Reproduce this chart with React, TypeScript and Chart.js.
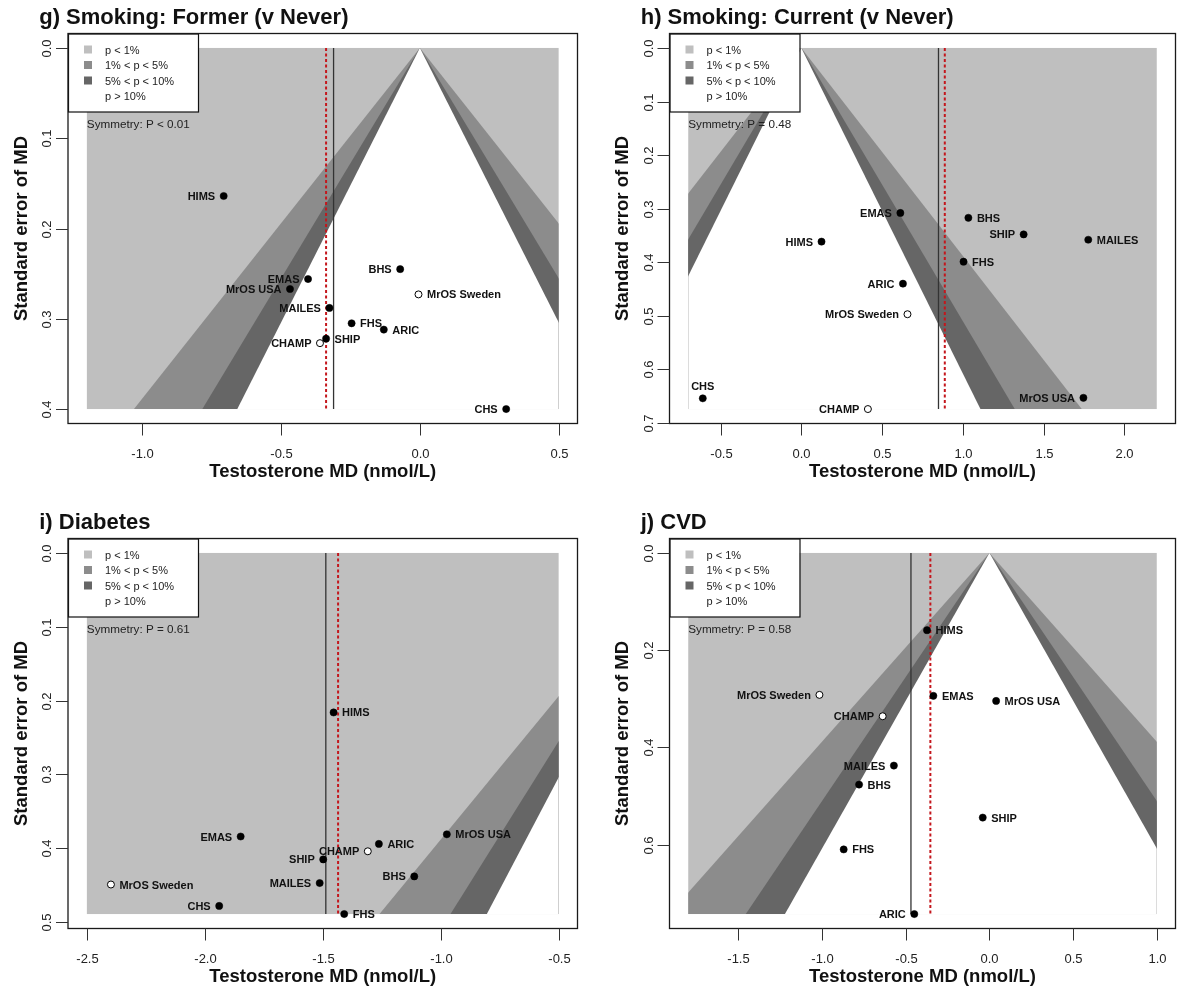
import React, { useEffect, useRef } from 'react';
import { Chart, registerables } from 'chart.js';

Chart.register(...registerables);

const FONT = '"Liberation Sans", Arial, Helvetica, sans-serif';

// ---------- Panel g) Smoking: Former (v Never) ----------
const gStudies = ['HIMS', 'BHS', 'EMAS', 'MrOS USA', 'MrOS Sweden', 'MAILES', 'FHS', 'ARIC', 'SHIP', 'CHAMP', 'CHS'];
const gMD = [-0.707, -0.071, -0.403, -0.468, -0.005, -0.326, -0.246, -0.130, -0.338, -0.360, 0.311];
const gSE = [0.164, 0.245, 0.256, 0.267, 0.273, 0.288, 0.305, 0.312, 0.322, 0.327, 0.400];
const gXTicks = [-1.0, -0.5, 0.0, 0.5];
const gXTickLabels = ['-1.0', '-0.5', '0.0', '0.5'];
const gYTicks = [0.0, 0.1, 0.2, 0.3, 0.4];
const gYTickLabels = ['0.0', '0.1', '0.2', '0.3', '0.4'];
const gXLim = [-1.2, 0.5];
const gPooled = -0.311;
const gAdjusted = -0.338;

// ---------- Panel h) Smoking: Current (v Never) ----------
const hStudies = ['EMAS', 'BHS', 'SHIP', 'MAILES', 'HIMS', 'FHS', 'ARIC', 'MrOS Sweden', 'CHS', 'MrOS USA', 'CHAMP'];
const hMD = [0.613, 1.034, 1.376, 1.776, 0.125, 1.004, 0.629, 0.657, -0.610, 1.746, 0.412];
const hSE = [0.308, 0.317, 0.348, 0.358, 0.3615, 0.399, 0.440, 0.497, 0.654, 0.653, 0.674];
const hXTicks = [-0.5, 0.0, 0.5, 1.0, 1.5, 2.0];
const hXTickLabels = ['-0.5', '0.0', '0.5', '1.0', '1.5', '2.0'];
const hYTicks = [0.0, 0.1, 0.2, 0.3, 0.4, 0.5, 0.6, 0.7];
const hYTickLabels = ['0.0', '0.1', '0.2', '0.3', '0.4', '0.5', '0.6', '0.7'];
const hXLim = [-0.7, 2.2];
const hPooled = 0.849;
const hAdjusted = 0.888;

// ---------- Panel i) Diabetes ----------
const iStudies = ['HIMS', 'MrOS USA', 'EMAS', 'ARIC', 'CHAMP', 'SHIP', 'BHS', 'MAILES', 'MrOS Sweden', 'CHS', 'FHS'];
const iMD = [-1.454, -0.974, -1.848, -1.262, -1.309, -1.498, -1.112, -1.513, -2.398, -1.939, -1.409];
const iSE = [0.216, 0.381, 0.384, 0.394, 0.404, 0.415, 0.438, 0.447, 0.449, 0.478, 0.489];
const iXTicks = [-2.5, -2.0, -1.5, -1.0, -0.5];
const iXTickLabels = ['-2.5', '-2.0', '-1.5', '-1.0', '-0.5'];
const iYTicks = [0.0, 0.1, 0.2, 0.3, 0.4, 0.5];
const iYTickLabels = ['0.0', '0.1', '0.2', '0.3', '0.4', '0.5'];
const iXLim = [-2.5, -0.5];
const iPooled = -1.487;
const iAdjusted = -1.435;

// ---------- Panel j) CVD ----------
const jStudies = ['HIMS', 'MrOS Sweden', 'EMAS', 'MrOS USA', 'CHAMP', 'MAILES', 'BHS', 'SHIP', 'FHS', 'ARIC'];
const jMD = [-0.373, -1.016, -0.335, 0.040, -0.638, -0.571, -0.779, -0.040, -0.871, -0.449];
const jSE = [0.159, 0.292, 0.294, 0.3045, 0.336, 0.4375, 0.4766, 0.5445, 0.610, 0.743];
const jXTicks = [-1.5, -1.0, -0.5, 0.0, 0.5, 1.0];
const jXTickLabels = ['-1.5', '-1.0', '-0.5', '0.0', '0.5', '1.0'];
const jYTicks = [0.0, 0.2, 0.4, 0.6];
const jYTickLabels = ['0.0', '0.2', '0.4', '0.6'];
const jXLim = [-1.8, 1.0];
const jPooled = -0.469;
const jAdjusted = -0.353;

// Legend / contour definitions
const legendLabels = ['p < 1%', '1% < p < 5%', '5% < p < 10%', 'p > 10%'];
const zCuts = [2.576, 1.96, 1.645];
const openStudies = ['MrOS Sweden', 'CHAMP'];

const LIGHT = '#bfbfbf';
const MEDIUM = '#8c8c8c';
const DARK = '#666666';
const legendColors = [LIGHT, MEDIUM, DARK, null];

type Side = 'l' | 'r' | 't';

interface Panel {
  title: string;
  studies: string[];
  md: number[];
  se: number[];
  xTicks: number[];
  xTickLabels: string[];
  yTicks: number[];
  yTickLabels: string[];
  xLim: number[];
  pooled: number;
  adjusted: number;
  symmetry: string;
  sides: Record<string, Side>;
  left: number;
  top: number;
  width: number;
  height: number;
  boxLeft: number;
  boxRight: number;
}

const panels: Panel[] = [
  {
    title: 'g) Smoking: Former (v Never)',
    studies: gStudies, md: gMD, se: gSE,
    xTicks: gXTicks, xTickLabels: gXTickLabels, yTicks: gYTicks, yTickLabels: gYTickLabels,
    xLim: gXLim, pooled: gPooled, adjusted: gAdjusted,
    symmetry: 'Symmetry: P < 0.01',
    sides: { 'HIMS': 'l', 'BHS': 'l', 'EMAS': 'l', 'MrOS USA': 'l', 'MrOS Sweden': 'r', 'MAILES': 'l', 'FHS': 'r', 'ARIC': 'r', 'SHIP': 'r', 'CHAMP': 'l', 'CHS': 'l' },
    left: 0, top: 0, width: 590, height: 490, boxLeft: 68, boxRight: 577.5,
  },
  {
    title: 'h) Smoking: Current (v Never)',
    studies: hStudies, md: hMD, se: hSE,
    xTicks: hXTicks, xTickLabels: hXTickLabels, yTicks: hYTicks, yTickLabels: hYTickLabels,
    xLim: hXLim, pooled: hPooled, adjusted: hAdjusted,
    symmetry: 'Symmetry: P = 0.48',
    sides: { 'EMAS': 'l', 'BHS': 'r', 'SHIP': 'l', 'MAILES': 'r', 'HIMS': 'l', 'FHS': 'r', 'ARIC': 'l', 'MrOS Sweden': 'l', 'CHS': 't', 'MrOS USA': 'l', 'CHAMP': 'l' },
    left: 590, top: 0, width: 590, height: 490, boxLeft: 79.5, boxRight: 589.3,
  },
  {
    title: 'i) Diabetes',
    studies: iStudies, md: iMD, se: iSE,
    xTicks: iXTicks, xTickLabels: iXTickLabels, yTicks: iYTicks, yTickLabels: iYTickLabels,
    xLim: iXLim, pooled: iPooled, adjusted: iAdjusted,
    symmetry: 'Symmetry: P = 0.61',
    sides: { 'HIMS': 'r', 'MrOS USA': 'r', 'EMAS': 'l', 'ARIC': 'r', 'CHAMP': 'l', 'SHIP': 'l', 'BHS': 'l', 'MAILES': 'l', 'MrOS Sweden': 'r', 'CHS': 'l', 'FHS': 'r' },
    left: 0, top: 505, width: 590, height: 484, boxLeft: 68, boxRight: 577.5,
  },
  {
    title: 'j) CVD',
    studies: jStudies, md: jMD, se: jSE,
    xTicks: jXTicks, xTickLabels: jXTickLabels, yTicks: jYTicks, yTickLabels: jYTickLabels,
    xLim: jXLim, pooled: jPooled, adjusted: jAdjusted,
    symmetry: 'Symmetry: P = 0.58',
    sides: { 'HIMS': 'r', 'MrOS Sweden': 'l', 'EMAS': 'r', 'MrOS USA': 'r', 'CHAMP': 'l', 'MAILES': 'l', 'BHS': 'r', 'SHIP': 'r', 'FHS': 'r', 'ARIC': 'l' },
    left: 590, top: 505, width: 590, height: 484, boxLeft: 79.5, boxRight: 589.3,
  },
];

const BOX_TOP = 33.5;
const BOX_BOTTOM = 423.5;

function buildChart(canvas: HTMLCanvasElement, p: Panel): Chart {
  const maxSE = Math.max(...p.se);
  const xr = p.xLim[1] - p.xLim[0];
  const filled: { x: number; y: number }[] = [];
  const open: { x: number; y: number }[] = [];
  p.studies.forEach((s, i) => {
    (openStudies.includes(s) ? open : filled).push({ x: p.md[i], y: p.se[i] });
  });

  const shade = {
    id: 'shade',
    beforeDatasetsDraw(chart: any) {
      const { ctx } = chart;
      const xs = chart.scales.x;
      const ys = chart.scales.y;
      const X = (v: number) => xs.getPixelForValue(v);
      const Y = (v: number) => ys.getPixelForValue(v);
      const l = X(p.xLim[0]);
      const r = X(p.xLim[1]);
      const t = Y(0);
      const b = Y(maxSE);
      ctx.save();
      ctx.fillStyle = LIGHT;
      ctx.fillRect(l, t, r - l, b - t);
      ctx.beginPath();
      ctx.rect(l, t, r - l, b - t);
      ctx.clip();
      const fills = [MEDIUM, DARK, '#ffffff'];
      zCuts.forEach((z, k) => {
        ctx.beginPath();
        ctx.moveTo(X(0), Y(0));
        ctx.lineTo(X(-z * maxSE), Y(maxSE));
        ctx.lineTo(X(z * maxSE), Y(maxSE));
        ctx.closePath();
        ctx.fillStyle = fills[k];
        ctx.fill();
      });
      ctx.restore();
    },
    afterDatasetsDraw(chart: any) {
      const { ctx } = chart;
      const xs = chart.scales.x;
      const ys = chart.scales.y;
      ctx.save();
      ctx.font = `bold 11px ${FONT}`;
      ctx.fillStyle = '#111';
      ctx.textBaseline = 'alphabetic';
      p.studies.forEach((s, i) => {
        const px = xs.getPixelForValue(p.md[i]);
        const py = ys.getPixelForValue(p.se[i]);
        const side = p.sides[s] || 'r';
        if (side === 'l') {
          ctx.textAlign = 'right';
          ctx.fillText(s, px - 8.5, py + 4);
        } else if (side === 'r') {
          ctx.textAlign = 'left';
          ctx.fillText(s, px + 8.5, py + 4);
        } else {
          ctx.textAlign = 'center';
          ctx.fillText(s, px, py - 8);
        }
      });
      ctx.restore();
    },
    afterDraw(chart: any) {
      const { ctx, chartArea } = chart;
      const xs = chart.scales.x;
      const ys = chart.scales.y;
      const { left, right, top, bottom } = chartArea;
      ctx.save();

      // symmetry text
      ctx.font = `11.7px ${FONT}`;
      ctx.fillStyle = '#222';
      ctx.textAlign = 'left';
      ctx.textBaseline = 'alphabetic';
      ctx.fillText(p.symmetry, xs.getPixelForValue(p.xLim[0]), 128);

      // legend
      const lw = 130;
      const lh = 78;
      const lt = 34;
      ctx.fillStyle = '#ffffff';
      ctx.fillRect(left, lt, lw, lh);
      ctx.strokeStyle = '#111';
      ctx.lineWidth = 1.2;
      ctx.strokeRect(left + 0.5, lt, lw, lh);
      ctx.font = `11px ${FONT}`;
      legendLabels.forEach((lab, k) => {
        const cy = 49.5 + k * 15.5;
        const c = legendColors[k];
        if (c) {
          ctx.fillStyle = c;
          ctx.fillRect(left + 16, cy - 4, 8, 8);
        }
        ctx.fillStyle = '#222';
        ctx.textAlign = 'left';
        ctx.fillText(lab, left + 37, cy + 4);
      });

      // box
      ctx.strokeStyle = '#1a1a1a';
      ctx.lineWidth = 1.3;
      ctx.strokeRect(left, top, right - left, bottom - top);

      // x ticks
      ctx.strokeStyle = '#333';
      ctx.lineWidth = 1;
      ctx.fillStyle = '#222';
      ctx.font = `13px ${FONT}`;
      ctx.textAlign = 'center';
      p.xTicks.forEach((t, k) => {
        const px = Math.round(xs.getPixelForValue(t)) + 0.5;
        ctx.beginPath();
        ctx.moveTo(px, bottom);
        ctx.lineTo(px, bottom + 12);
        ctx.stroke();
        ctx.fillText(p.xTickLabels[k], px, bottom + 34);
      });

      // y ticks
      p.yTicks.forEach((t, k) => {
        const py = Math.round(ys.getPixelForValue(t)) + 0.5;
        ctx.beginPath();
        ctx.moveTo(left - 12, py);
        ctx.lineTo(left, py);
        ctx.stroke();
        ctx.save();
        ctx.translate(left - 21.6, py);
        ctx.rotate(-Math.PI / 2);
        ctx.textAlign = 'center';
        ctx.fillText(p.yTickLabels[k], 0, 4.6);
        ctx.restore();
      });

      // axis titles
      ctx.fillStyle = '#111';
      ctx.font = `bold 18.5px ${FONT}`;
      ctx.textAlign = 'center';
      ctx.fillText('Testosterone MD (nmol/L)', (left + right) / 2, bottom + 53.4);
      ctx.save();
      ctx.translate(left - 41.5, (top + bottom) / 2);
      ctx.rotate(-Math.PI / 2);
      ctx.fillText('Standard error of MD', 0, 0);
      ctx.restore();

      // panel title
      ctx.font = `bold 22px ${FONT}`;
      ctx.textAlign = 'left';
      ctx.fillText(p.title, left - 28.8, 24);

      ctx.restore();
    },
  };

  return new Chart(canvas, {
    type: 'scatter',
    data: {
      datasets: [
        {
          data: filled,
          backgroundColor: '#000',
          borderColor: '#000',
          borderWidth: 0.5,
          pointRadius: 3.6,
          pointHoverRadius: 3.6,
        },
        {
          data: open,
          backgroundColor: '#fff',
          borderColor: '#000',
          borderWidth: 1,
          pointRadius: 3.5,
          pointHoverRadius: 3.5,
        },
        {
          data: [{ x: p.pooled, y: 0 }, { x: p.pooled, y: maxSE }],
          showLine: true,
          borderColor: '#333',
          borderWidth: 1.3,
          pointRadius: 0,
        },
        {
          data: [{ x: p.adjusted, y: 0 }, { x: p.adjusted, y: maxSE }],
          showLine: true,
          borderColor: '#c4161c',
          borderWidth: 2,
          borderDash: [3, 2.5],
          pointRadius: 0,
        },
      ],
    },
    options: {
      animation: false,
      responsive: false,
      devicePixelRatio: 1,
      layout: {
        padding: {
          left: p.boxLeft,
          right: p.width - p.boxRight,
          top: BOX_TOP,
          bottom: p.height - BOX_BOTTOM,
        },
      },
      plugins: {
        legend: { display: false },
        tooltip: { enabled: false },
        title: { display: false },
      },
      events: [],
      scales: {
        x: {
          type: 'linear',
          display: false,
          min: p.xLim[0] - 0.04 * xr,
          max: p.xLim[1] + 0.04 * xr,
        },
        y: {
          type: 'linear',
          display: false,
          reverse: true,
          min: -0.04 * maxSE,
          max: 1.04 * maxSE,
        },
      },
    },
    plugins: [shade],
  });
}

function PanelChart({ p }: { p: Panel }) {
  const ref = useRef<HTMLCanvasElement | null>(null);
  useEffect(() => {
    if (!ref.current) return;
    const chart = buildChart(ref.current, p);
    return () => chart.destroy();
  }, [p]);
  return (
    <canvas
      ref={ref}
      width={p.width}
      height={p.height}
      style={{ position: 'absolute', left: p.left, top: p.top, width: p.width, height: p.height }}
    />
  );
}

export default function App() {
  return (
    <div style={{ position: 'absolute', left: 0, top: 0, width: 1180, height: 989, background: '#fff', overflow: 'hidden' }}>
      {panels.map((p) => (
        <PanelChart key={p.title} p={p} />
      ))}
    </div>
  );
}
